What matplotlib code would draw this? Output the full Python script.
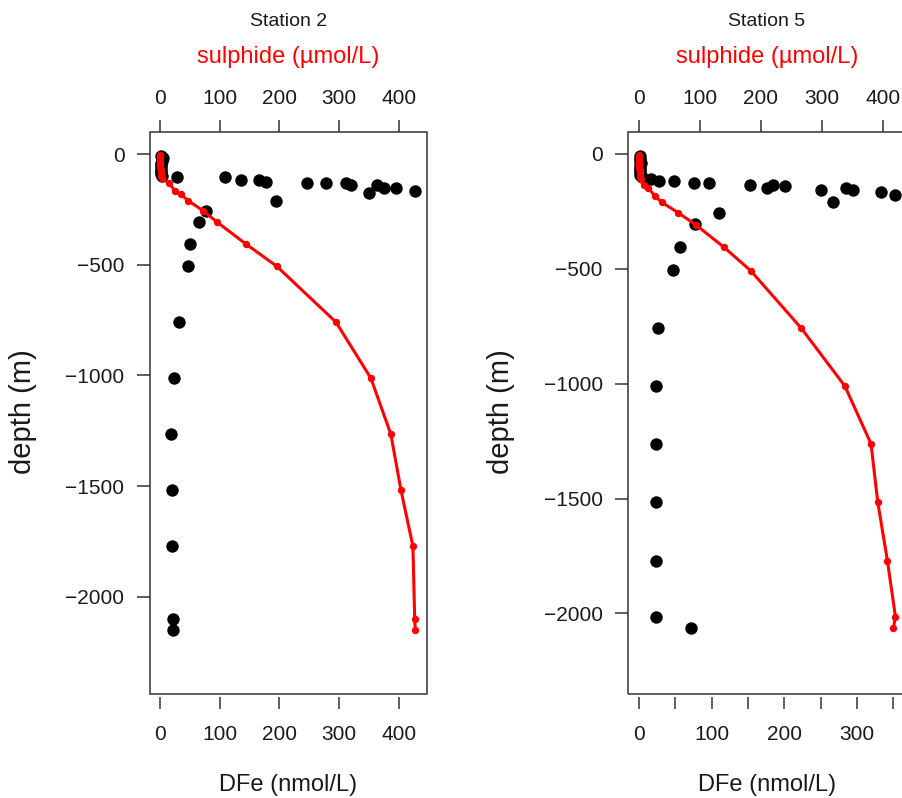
import matplotlib
matplotlib.use("Agg")
import matplotlib.pyplot as plt
from matplotlib.patches import Rectangle
from matplotlib.ticker import FixedLocator, FuncFormatter

plt.rcParams['font.family'] = ['Liberation Sans', 'DejaVu Sans']

# ---------------- data ----------------
# Station 2 : dissolved Fe (nmol/L) vs depth (m)
st2_dfe_depth = [-10, -20, -30, -40, -50, -60, -70, -80, -90, -100,
                 -105, -105, -117, -117, -125, -211, -130, -132, -131, -140,
                 -178, -140, -155, -152, -166,
                 -256, -306, -408, -506, -759, -1012, -1265, -1518, -1771, -2100, -2150]
st2_dfe = [2, 5, 3, 1, 2, 1, 1, 2, 2, 3,
           28.5, 109, 136, 166, 178, 194, 246, 279, 311, 321,
           351, 364, 375, 396, 427,
           77.6, 65, 51, 47, 32, 23, 18, 20, 20, 22, 22]
# Station 2 : sulphide (umol/L) vs depth (m)
st2_sul_depth = [-5, -10, -20, -30, -40, -50, -60, -70, -80, -90, -100, -110,
                 -132, -166, -181, -211, -256, -306, -408, -506, -759,
                 -1012, -1265, -1518, -1771, -2100, -2150]
st2_sul = [0, 0, 0, 0, 0, 0.5, 0.5, 1, 1, 1.5, 2, 4,
           15.6, 25, 35, 47.4, 72.5, 95, 145, 195.5, 295,
           353.5, 387, 404, 424, 427, 428]

# Station 5 : dissolved Fe (nmol/L) vs depth (m)
st5_dfe_depth = [-10, -20, -30, -40, -50, -60, -70, -80, -90, -100,
                 -109, -116, -116, -125, -128, -135, -149, -135, -139, -157,
                 -210, -149, -157, -164, -178,
                 -256, -305, -406, -505, -757, -1010, -1262, -1515, -1772, -2014, -2065]
st5_dfe = [1, 2, 1, 3, 1, 2, 1, 2, 2, 4,
           16.5, 28, 48.6, 76, 96, 153, 175.6, 184.7, 200.8, 251,
           267, 284.7, 294.8, 332.5, 352,
           109.6, 77.4, 56.4, 47.2, 26, 23.4, 23.4, 23.4, 23.4, 23.4, 71.5]
# Station 5 : sulphide (umol/L) vs depth (m)
st5_sul_depth = [-5, -10, -20, -30, -40, -50, -60, -70, -80, -90, -100, -110,
                 -135, -149, -183, -210, -256, -309, -406, -508, -757,
                 -1010, -1262, -1515, -1772, -2014, -2065]
st5_sul = [0, 0, 0, 0, 0, 0.5, 0.5, 1, 1, 1.5, 2, 3,
           8.2, 15.3, 26.3, 37.3, 64.5, 93.6, 139.6, 183.4, 266,
           338, 381, 392, 408, 421, 417.6]

titles = ["Station 2", "Station 5"]
depth_ticks = [0, -500, -1000, -1500, -2000]
st2_dfe_ticks = [0, 100, 200, 300, 400]
st5_dfe_ticks = [0, 50, 100, 150, 200, 250, 300, 350]
sul_ticks = [0, 100, 200, 300, 400]

# ---------------- layout ----------------
W, H = 902, 798
fig = plt.figure(figsize=(W / 100, H / 100), dpi=100)

DARK = '#333333'
TXT = '#1a1a1a'
RED = '#ff0000'

panels = [
    dict(left=150, right=427, xlim=(-16.7, 447.6), x2lim=(-16.7, 447.6), ylim=(-2440, 101),
         dfe=st2_dfe, dfe_d=st2_dfe_depth, sul=st2_sul, sul_d=st2_sul_depth,
         xticks=st2_dfe_ticks, title=titles[0], cx=288.5),
    dict(left=628.3, right=906, xlim=(-14.7, 367.3), x2lim=(-17.6, 438.4), ylim=(-2352, 97),
         dfe=st5_dfe, dfe_d=st5_dfe_depth, sul=st5_sul, sul_d=st5_sul_depth,
         xticks=st5_dfe_ticks, title=titles[1], cx=767),
]
top_px, bot_px = 131.7, 694.3

for p in panels:
    l = p['left'] / W
    w = (p['right'] - p['left']) / W
    b = 1 - bot_px / H
    h = (bot_px - top_px) / H
    ax = fig.add_axes([l, b, w, h])
    ax.scatter(p['dfe'], p['dfe_d'], s=80, c='black', linewidths=0, zorder=3)
    ax.set_xlim(*p['xlim'])
    ax.set_ylim(*p['ylim'])
    for s in ax.spines.values():
        s.set_visible(False)
    ax.spines['bottom'].set_position(('outward', 1.7))
    ax.add_patch(Rectangle((0, 0), 1, 1, transform=ax.transAxes, fill=False,
                           lw=1.1, ec=DARK, clip_on=False, zorder=5))
    ax.xaxis.set_major_locator(FixedLocator(p['xticks']))
    ax.xaxis.set_major_formatter(FuncFormatter(lambda v, pos: f"{int(round(v))}" if round(v) % 100 == 0 else ""))
    ax.yaxis.set_major_locator(FixedLocator(depth_ticks))
    ax.tick_params(axis='x', direction='out', length=8.4, width=1.1, color=DARK,
                   labelsize=15, labelcolor=TXT, pad=12)
    ax.tick_params(axis='y', direction='out', length=9.4, width=1.1, color=DARK,
                   labelsize=15, labelcolor=TXT, pad=9)

    ax2 = ax.twiny()
    ax2.plot(p['sul'], p['sul_d'], color=RED, lw=2.2, marker='o', ms=4.3,
             mec=RED, mfc=RED, zorder=4)
    ax2.set_xlim(*p['x2lim'])
    ax2.set_ylim(*p['ylim'])
    for s in ax2.spines.values():
        s.set_visible(False)
    ax2.xaxis.set_major_locator(FixedLocator(sul_ticks))
    ax2.tick_params(axis='x', direction='out', length=8.9, width=1.1, color=DARK,
                    labelsize=15, labelcolor=TXT, pad=8.5)

    cx = p['cx'] / W
    fig.text(cx, 1 - 21 / H, p['title'], ha='center', va='center', fontsize=14, color=TXT)
    fig.text(cx, 1 - 57 / H, "sulphide (µmol/L)", ha='center', va='center', fontsize=17, color=RED)
    fig.text(cx, 1 - 785 / H, "DFe (nmol/L)", ha='center', va='center', fontsize=17, color=TXT)
    fig.text((p['left'] - 127) / W, 1 - 412 / H, "depth (m)", ha='center', va='center',
             rotation=90, fontsize=21, color=TXT)

fig.savefig("out.png", dpi=100)
